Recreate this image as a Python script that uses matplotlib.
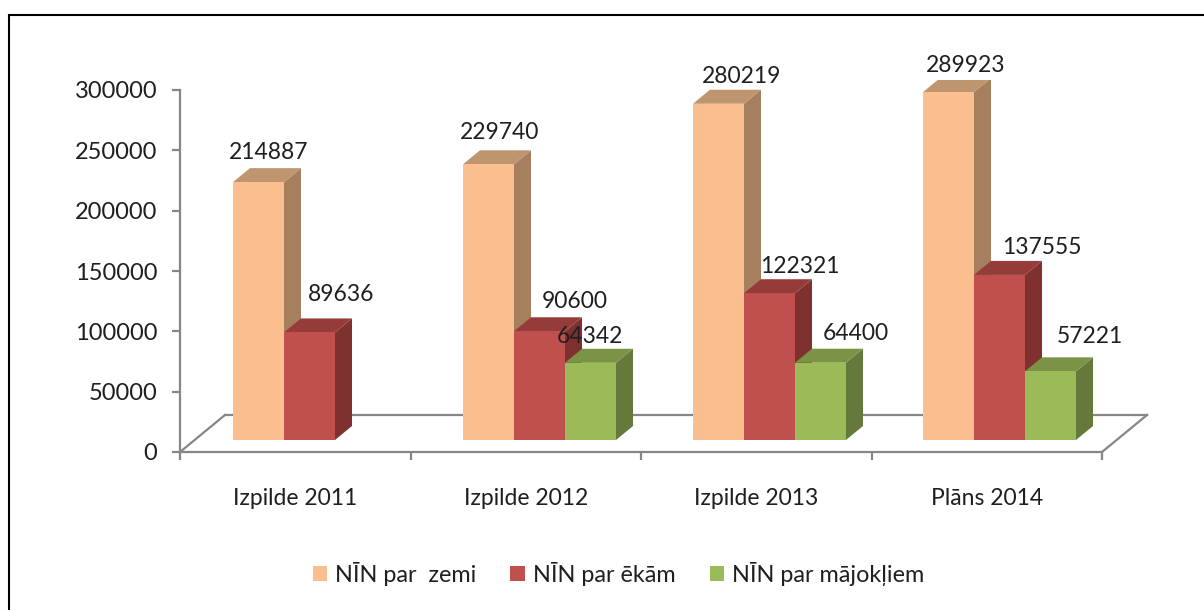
import matplotlib
matplotlib.use("Agg")
import matplotlib.pyplot as plt
from matplotlib.patches import Patch, Polygon
from matplotlib.lines import Line2D
from matplotlib.transforms import Affine2D

plt.rcParams['font.family'] = ['Lato', 'DejaVu Sans']

categories = ["Izpilde 2011", "Izpilde 2012", "Izpilde 2013", "Plāns 2014"]
series_names = ["NĪN par  zemi", "NĪN par ēkām", "NĪN par mājokļiem"]
zeme = [214887, 229740, 280219, 289923]
ekas = [89636, 90600, 122321, 137555]
majokli = [None, 64342, 64400, 57221]
y_ticks = [0, 50000, 100000, 150000, 200000, 250000, 300000]

front_colors = ["#FBBF8F", "#C0504D", "#9BBB59"]
top_colors = ["#BE956F", "#953C3A", "#7A9345"]
side_colors = ["#A57F5E", "#7E312F", "#65793A"]
text_color = "#1F1F1F"
axis_color = "#868686"

# label offsets in pixels from the front-top centre of each bar
label_offsets = [
    [(10, 30), (11, 32), (23, 27), (17, 27)],
    [(32, 38), (35, 30), (30, 27), (42, 27)],
    [None, (-1, 26), (35, 29), (39, 35)],
]

W, H = 1204, 610
fig = plt.figure(figsize=(W / 100, H / 100), dpi=100, facecolor="white")


def axes_px(x0, y_top, x1, y_bottom, **kw):
    return fig.add_axes([x0 / W, 1 - y_bottom / H, (x1 - x0) / W, (y_bottom - y_top) / H], **kw)


# page frame: only the top and left edges fall inside the picture
fig.add_artist(Line2D([9 / W, 9 / W, 1], [0, 1 - 15 / H, 1 - 15 / H],
                      transform=fig.transFigure, color="black", lw=1.5,
                      solid_joinstyle="miter"))

# axis plane
ax = axes_px(180, 90, 1102, 452)
ax.set_xlim(0, 4)
ax.set_ylim(0, 300000)
ax.patch.set_alpha(0)
for s in ("top", "right"):
    ax.spines[s].set_visible(False)
for s in ("left", "bottom"):
    ax.spines[s].set_color(axis_color)
    ax.spines[s].set_linewidth(1.6)
ax.set_yticks(y_ticks)
ax.set_yticklabels([str(v) for v in y_ticks], fontsize=17, color=text_color, va="center_baseline")
ax.set_xticks([0, 1, 2, 3, 4])
ax.set_xticklabels([])
ax.set_xticks([0.5, 1.5, 2.5, 3.5], minor=True)
ax.set_xticklabels(categories, minor=True, fontsize=16.5, color=text_color)
ax.tick_params(axis="x", which="major", length=6, width=1.6, color=axis_color)
ax.tick_params(axis="x", which="minor", length=0, pad=26)
ax.tick_params(axis="y", length=6, width=1.6, color=axis_color, pad=10.5)

# floor of the 3D box
floor = Affine2D().translate(45, 37)
base = ax.transData
for xa in (0, 4):
    p0 = base.transform((xa, 0))
    p1 = (base + floor).transform((xa, 0))
    fig.add_artist(Line2D([p0[0] / W, p1[0] / W], [p0[1] / H, p1[1] / H],
                          transform=fig.transFigure, color=axis_color, lw=1.6))
ax.plot([0, 4], [0, 0], transform=base + floor, color=axis_color, lw=1.6, clip_on=False, zorder=1)

# front plane of the bars
bx = axes_px(180, 80, 1100, 440)
bx.set_xlim(0, 4)
bx.set_ylim(0, 300000)
bx.axis("off")
bx.patch.set_alpha(0)

bar_w = 51 / 230
first_left = 53 / 230
depth = Affine2D().translate(17, 14)

for s, (vals, off) in enumerate(zip([zeme, ekas, majokli], label_offsets)):
    for i, v in enumerate(vals):
        if v is None:
            continue
        left = i + first_left + s * bar_w
        right = left + bar_w
        f = bx.transData
        b = bx.transData + depth
        # side and top faces: far edge taken through the depth offset
        fr_bot, fr_top = f.transform([(right, 0), (right, v)])
        bk_bot, bk_top = b.transform([(right, 0), (right, v)])
        fl_top = f.transform((left, v))
        bl_top = b.transform((left, v))
        bx.add_patch(Polygon([fr_bot, bk_bot, bk_top, fr_top], closed=True, transform=None,
                             fc=side_colors[s], ec="none", zorder=2 + s))
        bx.add_patch(Polygon([fl_top, bl_top, bk_top, fr_top], closed=True, transform=None,
                             fc=top_colors[s], ec="none", zorder=2 + s))
        bx.bar(left, v, width=bar_w, align="edge", color=front_colors[s], zorder=2 + s, clip_on=False)
        bx.annotate(str(v), (left + bar_w / 2, v), xytext=off[i], textcoords="offset pixels",
                    ha="center", va="center", fontsize=16.5, color=text_color, zorder=10,
                    annotation_clip=False)

handles = [Patch(fc=c, ec="none") for c in front_colors]
fig.legend(handles, series_names, loc="center", bbox_to_anchor=(618.5 / W, 1 - 574 / H),
           ncols=3, frameon=False, fontsize=16.8, labelcolor=text_color,
           handlelength=0.62, handleheight=0.6, handletextpad=0.35, columnspacing=1.45)

fig.savefig("out.png", dpi=100, facecolor="white")
